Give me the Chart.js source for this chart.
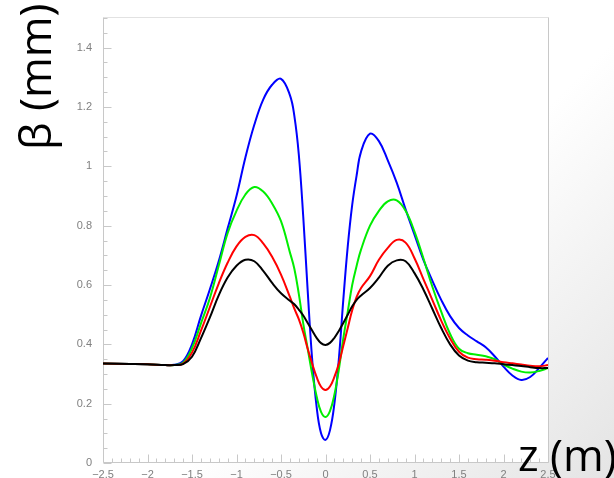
<!DOCTYPE html>
<html>
<head>
<meta charset="utf-8">
<script src="https://cdn.jsdelivr.net/npm/chart.js@4"></script>
<style>
html,body{margin:0;padding:0;}
body{width:614px;height:478px;overflow:hidden;background:linear-gradient(135deg,#ffffff 0%,#ffffff 60%,#e4e4e4 100%);}
canvas{display:block;}
</style>
</head>
<body>
<canvas id="c" width="614" height="478"></canvas>
<script>
const z = [-2.5,-2.2,-2.0,-1.8,-1.7,-1.6,-1.5,-1.4,-1.3,-1.2,-1.1,-1.0,-0.9,-0.8,-0.7,-0.6,-0.5,-0.4,-0.35,-0.3,-0.25,-0.2,-0.15,-0.1,-0.05,0,0.05,0.1,0.15,0.2,0.25,0.3,0.35,0.4,0.5,0.6,0.7,0.8,0.9,1.0,1.1,1.2,1.3,1.4,1.5,1.6,1.7,1.8,1.9,2.0,2.1,2.2,2.3,2.4,2.5];
const betaBlack = [0.335,0.334,0.333,0.330,0.330,0.333,0.358,0.42,0.49,0.565,0.625,0.665,0.685,0.680,0.648,0.607,0.572,0.547,0.535,0.517,0.497,0.472,0.447,0.422,0.404,0.398,0.405,0.422,0.445,0.472,0.50,0.528,0.55,0.565,0.59,0.625,0.665,0.683,0.680,0.64,0.585,0.52,0.455,0.40,0.362,0.345,0.34,0.338,0.336,0.333,0.33,0.327,0.323,0.32,0.32];
const betaRed = [0.335,0.334,0.333,0.330,0.330,0.335,0.372,0.445,0.525,0.605,0.675,0.73,0.762,0.768,0.74,0.695,0.635,0.56,0.52,0.485,0.44,0.385,0.335,0.29,0.257,0.246,0.258,0.29,0.335,0.395,0.455,0.515,0.56,0.59,0.63,0.685,0.725,0.752,0.743,0.69,0.62,0.55,0.48,0.42,0.375,0.355,0.35,0.348,0.345,0.34,0.336,0.332,0.328,0.326,0.33];
const betaGreen = [0.335,0.334,0.333,0.330,0.330,0.338,0.387,0.47,0.555,0.665,0.775,0.85,0.905,0.93,0.915,0.875,0.815,0.71,0.655,0.57,0.47,0.385,0.30,0.225,0.172,0.155,0.175,0.23,0.315,0.42,0.51,0.60,0.665,0.72,0.80,0.85,0.882,0.885,0.85,0.78,0.69,0.595,0.51,0.435,0.385,0.37,0.365,0.36,0.35,0.332,0.318,0.308,0.305,0.31,0.32];
const betaBlue = [0.335,0.334,0.333,0.330,0.331,0.343,0.40,0.495,0.585,0.68,0.79,0.90,1.03,1.14,1.225,1.275,1.295,1.24,1.17,1.04,0.83,0.58,0.35,0.19,0.10,0.078,0.11,0.20,0.35,0.55,0.73,0.87,0.97,1.05,1.11,1.085,1.02,0.945,0.855,0.77,0.685,0.615,0.55,0.495,0.455,0.43,0.41,0.39,0.36,0.325,0.295,0.28,0.29,0.32,0.354];
const xRange = [-2.5, 2.5];
const yRange = [0, 1.5];
const xMajorStep = 0.5, xMinorStep = 0.1;
const yMajorStep = 0.2, yMinorStep = 0.05;
const yTitle = 'β (mm)';
const xTitle = 'z (m)';

const series = [
  {label:'black', data: betaBlack, color:'#000000'},
  {label:'red', data: betaRed, color:'#ff0000'},
  {label:'green', data: betaGreen, color:'#00ee00'},
  {label:'blue', data: betaBlue, color:'#0000ff'}
];

const minus = v => String(v).replace('-', '\u2212');

const framePlugin = {
  id: 'frame',
  beforeDraw(chart) {
    const {ctx, chartArea: a} = chart;
    ctx.save();
    ctx.fillStyle = '#ffffff';
    ctx.fillRect(a.left, a.top, a.right - a.left, a.bottom - a.top);
    ctx.restore();
  },
  beforeDatasetsDraw(chart) {
    const {ctx, chartArea: a} = chart;
    const xs = chart.scales.x, ys = chart.scales.y;
    const L = Math.round(a.left) + 0.5, R = Math.round(a.right) + 0.5;
    const T = Math.round(a.top) - 0.5, B = Math.round(a.bottom) - 0.5;
    ctx.save();
    ctx.lineWidth = 1;
    ctx.strokeStyle = '#e2e2e2';
    ctx.beginPath(); ctx.moveTo(L, T); ctx.lineTo(R, T); ctx.stroke();
    ctx.strokeStyle = '#c8c8c8';
    ctx.beginPath();
    ctx.moveTo(L, T); ctx.lineTo(L, B); ctx.lineTo(R, B); ctx.lineTo(R, T);
    ctx.stroke();
    ctx.beginPath();
    const nx = Math.round((xRange[1] - xRange[0]) / xMinorStep);
    for (let i = 0; i <= nx; i++) {
      const v = xRange[0] + i * xMinorStep;
      const major = Math.abs(v / xMajorStep - Math.round(v / xMajorStep)) < 1e-6;
      const px = Math.round(xs.getPixelForValue(v)) + 0.5;
      ctx.moveTo(px, B);
      ctx.lineTo(px, B - (major ? 8 : 4));
    }
    const ny = Math.round((yRange[1] - yRange[0]) / yMinorStep);
    for (let i = 0; i <= ny; i++) {
      const v = yRange[0] + i * yMinorStep;
      const major = Math.abs(v / yMajorStep - Math.round(v / yMajorStep)) < 1e-6;
      const py = Math.round(ys.getPixelForValue(v)) + 0.5;
      ctx.moveTo(L, py);
      ctx.lineTo(L + (major ? 8 : 4), py);
    }
    ctx.stroke();
    ctx.restore();
  },
  afterDraw(chart) {
    const {ctx} = chart;
    ctx.save();
    ctx.fillStyle = '#000000';
    ctx.font = '44px "Open Sans"';
    ctx.textBaseline = 'alphabetic';
    ctx.textAlign = 'left';
    ctx.fillText(xTitle, 518, 471);
    ctx.translate(51, 150);
    ctx.rotate(-Math.PI / 2);
    ctx.fillText(yTitle, 0, 0);
    ctx.restore();
  }
};

const zeroPad = s => { s.paddingTop = 0; s.paddingBottom = 0; s.paddingLeft = 0; s.paddingRight = 0; };

new Chart(document.getElementById('c'), {
  type: 'line',
  data: {
    labels: z,
    datasets: series.map(s => ({
      label: s.label,
      data: z.map((x, i) => ({x: x, y: s.data[i]})),
      borderColor: s.color,
      backgroundColor: s.color,
      borderWidth: 2,
      pointRadius: 0,
      fill: false,
      tension: 0.4
    }))
  },
  options: {
    responsive: false,
    animation: false,
    layout: {padding: {top: 18, right: 66, left: 0, bottom: 0}},
    plugins: {legend: {display: false}, tooltip: {enabled: false}},
    scales: {
      x: {
        type: 'linear', min: xRange[0], max: xRange[1],
        ticks: {stepSize: xMajorStep, color: '#808080', font: {family: '"Liberation Sans"', size: 11}, padding: 5, maxRotation: 0, autoSkip: false, callback: v => minus(v)},
        grid: {display: false, drawTicks: false},
        border: {display: false},
        afterFit(s) { s.height = 15; zeroPad(s); }
      },
      y: {
        type: 'linear', min: yRange[0], max: yRange[1],
        ticks: {stepSize: yMajorStep, color: '#808080', font: {family: '"Liberation Sans"', size: 11}, padding: 11, callback: v => minus(v)},
        afterBuildTicks(s) { s.ticks = s.ticks.filter(t => Math.abs(t.value / yMajorStep - Math.round(t.value / yMajorStep)) < 1e-6); },
        grid: {display: false, drawTicks: false},
        border: {display: false},
        afterFit(s) { s.width = 103; zeroPad(s); }
      }
    }
  },
  plugins: [framePlugin]
});
</script>
</body>
</html>
